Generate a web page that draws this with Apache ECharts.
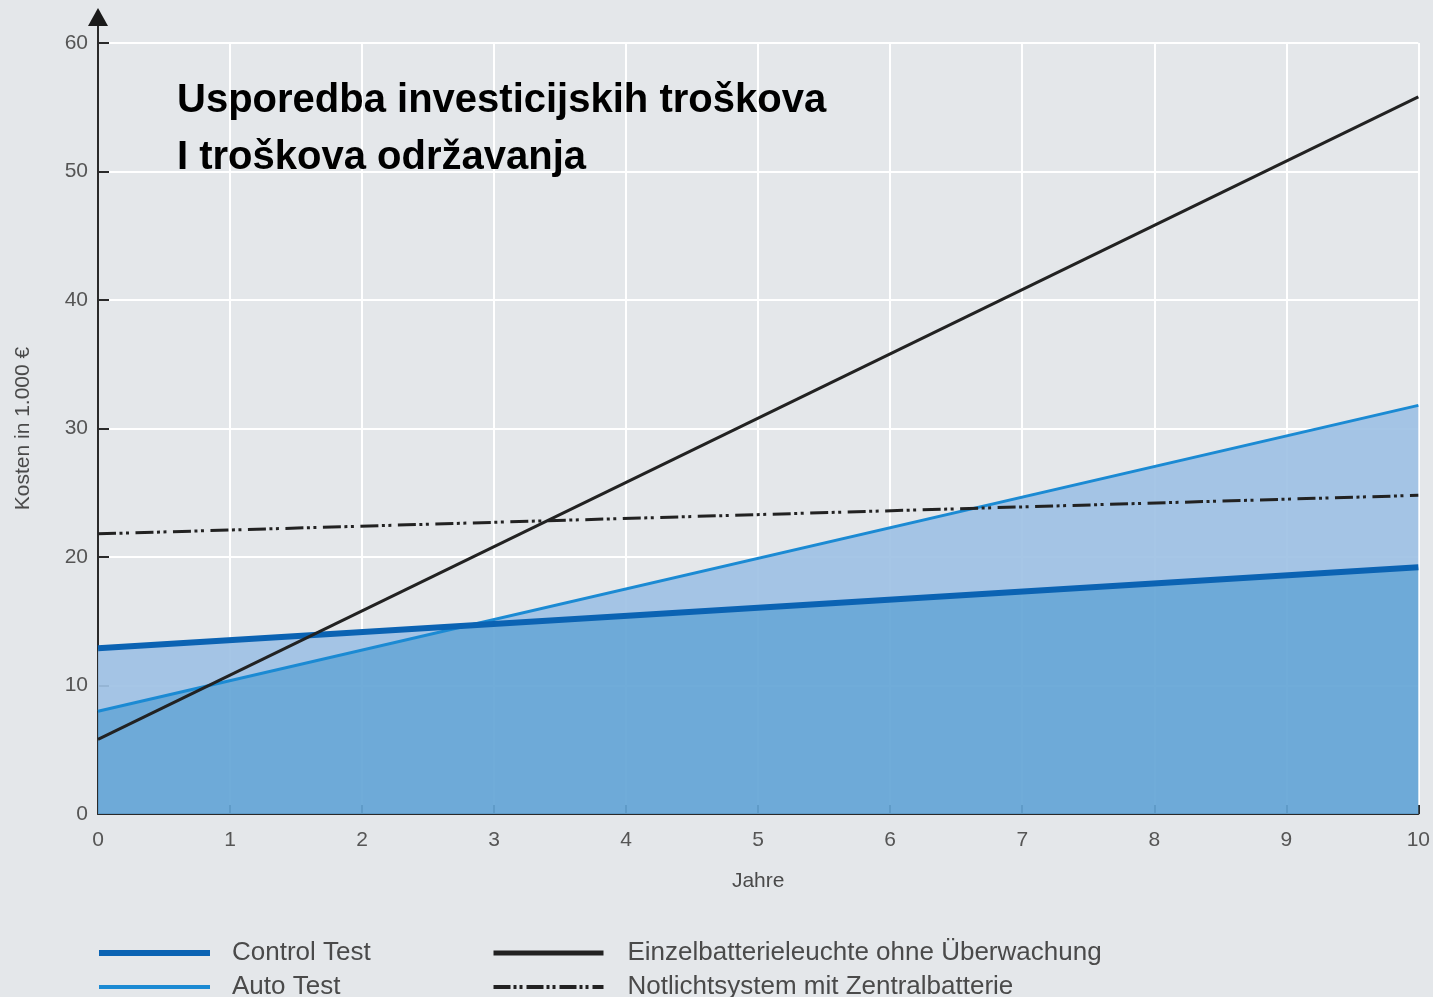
<!DOCTYPE html>
<html>
<head>
<meta charset="utf-8">
<script src="https://cdn.jsdelivr.net/npm/echarts@6/dist/echarts.min.js"></script>
<style>
  html, body { margin: 0; padding: 0; background: #e4e7ea; }
  #chart { width: 1433px; height: 997px; }
</style>
</head>
<body>
<div id="chart"></div>
<script>
// Years on the x axis (straight-line cost development)
const years = [0, 10];
// Costs in 1.000 €
const controlTest = [12.9, 19.2];
const autoTest = [8.0, 31.8];
const einzelbatterie = [5.8, 55.8];
const notlicht = [21.8, 24.8];

const xTicks = [0, 1, 2, 3, 4, 5, 6, 7, 8, 9, 10];
const yTicks = [0, 10, 20, 30, 40, 50, 60];

const seriesNames = {
  control: 'Control Test',
  auto: 'Auto Test',
  einzel: 'Einzelbatterieleuchte ohne Überwachung',
  notlicht: 'Notlichtsystem mit Zentralbatterie'
};
const titleLines = ['Usporedba investicijskih troškova', 'I troškova održavanja'];

const FONT = '"Liberation Sans", Arial, Helvetica, sans-serif';
const midFill = 'rgb(100,165,214)';
const lightFill = 'rgb(158,193,228)';
const notlichtDash = [18, 3.5, 3, 3.5, 3, 6.5];

function pairs(values) {
  return years.map((x, i) => [x, values[i]]);
}

// Two bands: below the lower of the two test lines, and between them
function fillRenderItem(params, api) {
  if (params.dataIndex !== 0) return null;
  const pts = [];
  for (let i = 0; i < years.length; i++) {
    pts.push([years[i], controlTest[i], autoTest[i]]);
    if (i < years.length - 1) {
      const d0 = controlTest[i] - autoTest[i];
      const d1 = controlTest[i + 1] - autoTest[i + 1];
      if (d0 * d1 < 0) {
        const t = d0 / (d0 - d1);
        const x = years[i] + t * (years[i + 1] - years[i]);
        const y = controlTest[i] + t * (controlTest[i + 1] - controlTest[i]);
        pts.push([x, y, y]);
      }
    }
  }
  const lower = pts.map(p => api.coord([p[0], Math.min(p[1], p[2])]));
  const upper = pts.map(p => api.coord([p[0], Math.max(p[1], p[2])]));
  const base = pts.map(p => api.coord([p[0], 0]));
  return {
    type: 'group',
    children: [
      { type: 'polygon', shape: { points: upper.concat(lower.slice().reverse()) },
        style: { fill: lightFill, opacity: 0.92 } },
      { type: 'polygon', shape: { points: lower.concat(base.slice().reverse()) },
        style: { fill: midFill, opacity: 0.92 } }
    ]
  };
}

const chart = echarts.init(document.getElementById('chart'), null, { renderer: 'canvas' });

const legendText = { fontFamily: FONT, fontSize: 26, color: '#4a4a4a', lineHeight: 22 };
const legendBase = {
  orient: 'vertical',
  top: 940,
  height: 80,
  padding: 0,
  itemHeight: 24, itemGap: 8,
  selectedMode: false,
  itemStyle: { color: 'transparent', borderWidth: 0, opacity: 0 }
};

chart.setOption({
  backgroundColor: '#e4e7ea',
  animation: false,
  title: {
    text: titleLines.join('\n'),
    left: 177,
    top: 72,
    padding: 0,
    textStyle: { fontFamily: FONT, fontSize: 40, fontWeight: 'bold', color: '#000', lineHeight: 57 }
  },
  grid: { left: 98, right: 14, top: 43, bottom: 183, containLabel: false },
  xAxis: {
    type: 'value',
    min: 0, max: 10, interval: 1,
    name: 'Jahre',
    nameLocation: 'middle',
    nameGap: 57,
    nameTextStyle: { fontFamily: FONT, fontSize: 21, color: '#4a4a4a' },
    axisLine: { show: true, onZero: false, lineStyle: { color: '#2a2a2a', width: 2 } },
    axisTick: { show: true, inside: true, length: 9, lineStyle: { color: '#2a2a2a', width: 2 } },
    axisLabel: { margin: 16, fontFamily: FONT, fontSize: 21, color: '#555',
      formatter: v => (xTicks.indexOf(v) >= 0 ? String(v) : '') },
    splitLine: { show: true, lineStyle: { color: '#ffffff', width: 2 } }
  },
  yAxis: {
    type: 'value',
    min: 0, max: 60, interval: 10,
    name: 'Kosten in 1.000 €',
    nameLocation: 'middle',
    nameGap: 64,
    nameTextStyle: { fontFamily: FONT, fontSize: 21, color: '#4a4a4a' },
    axisLine: { show: true, lineStyle: { color: '#2a2a2a', width: 2 } },
    axisTick: { show: true, inside: true, length: 11, lineStyle: { color: '#2a2a2a', width: 2 } },
    axisLabel: { margin: 10, fontFamily: FONT, fontSize: 21, color: '#555',
      formatter: v => (yTicks.indexOf(v) >= 0 ? String(v) : '') },
    splitLine: { show: true, lineStyle: { color: '#ffffff', width: 2 } }
  },
  legend: [
    Object.assign({}, legendBase, {
      left: 96,
      itemWidth: 111,
      data: [
        { name: seriesNames.control, lineStyle: { width: 6 } },
        { name: seriesNames.auto, lineStyle: { width: 4 } }
      ],
      textStyle: Object.assign({ padding: [0, 0, 0, 17] }, legendText)
    }),
    Object.assign({}, legendBase, {
      left: 491,
      itemWidth: 110,
      data: [
        { name: seriesNames.einzel, lineStyle: { width: 5 } },
        { name: seriesNames.notlicht, lineStyle: { width: 4, type: [17, 3, 3, 3, 3, 4] } }
      ],
      textStyle: Object.assign({ padding: [0, 0, 0, 19] }, legendText)
    })
  ],
  series: [
    {
      type: 'custom',
      name: 'fill',
      silent: true,
      z: 1,
      renderItem: fillRenderItem,
      encode: { x: 0, y: [1, 2] },
      data: years.map((x, i) => [x, controlTest[i], autoTest[i]])
    },
    {
      type: 'line', name: seriesNames.control, z: 5,
      data: pairs(controlTest), symbol: 'none',
      lineStyle: { color: '#0b63b3', width: 6 }, itemStyle: { color: '#0b63b3' }
    },
    {
      type: 'line', name: seriesNames.auto, z: 4,
      data: pairs(autoTest), symbol: 'none',
      lineStyle: { color: '#1b8ad3', width: 3 }, itemStyle: { color: '#1b8ad3' }
    },
    {
      type: 'line', name: seriesNames.einzel, z: 6,
      data: pairs(einzelbatterie), symbol: 'none',
      lineStyle: { color: '#222222', width: 3 }, itemStyle: { color: '#222222' }
    },
    {
      type: 'line', name: seriesNames.notlicht, z: 6,
      data: pairs(notlicht), symbol: 'none',
      lineStyle: { color: '#222222', width: 3, type: notlichtDash },
      itemStyle: { color: '#222222' }
    }
  ]
});

// Extend the y axis above the top gridline with an arrow head
const top60 = chart.convertToPixel({ gridIndex: 0 }, [0, 60]);
const ax = top60[0], ay = top60[1];
chart.setOption({
  graphic: [
    { type: 'line', z: 10, shape: { x1: ax, y1: ay + 1, x2: ax, y2: ay - 20 },
      style: { stroke: '#2a2a2a', lineWidth: 2 } },
    { type: 'polygon', z: 10,
      shape: { points: [[ax - 10, ay - 17], [ax + 10, ay - 17], [ax, ay - 35]] },
      style: { fill: '#1a1a1a' } }
  ]
});
</script>
</body>
</html>
